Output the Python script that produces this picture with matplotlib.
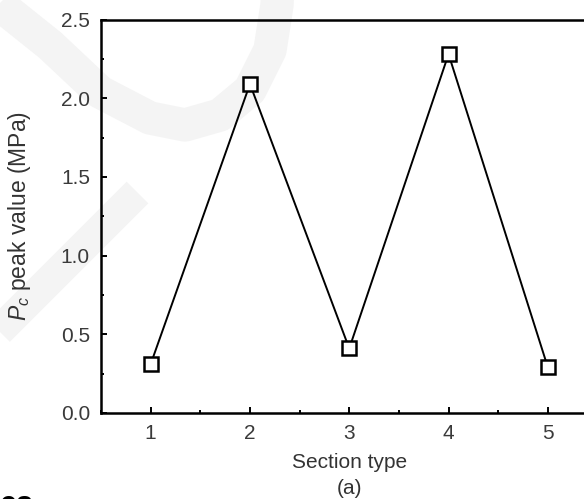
import numpy as np
import matplotlib
matplotlib.use('Agg')
import matplotlib.pyplot as plt
from matplotlib.ticker import MultipleLocator, FormatStrFormatter

# data
section_type = [1, 2, 3, 4, 5]
pc_peak = [0.31, 2.09, 0.41, 2.28, 0.29]

x_ticks = [1, 2, 3, 4, 5]
y_ticks = [0.0, 0.5, 1.0, 1.5, 2.0, 2.5]

plt.rcParams['font.family'] = ['Liberation Sans', 'DejaVu Sans']
plt.rcParams['mathtext.fontset'] = 'custom'
plt.rcParams['mathtext.rm'] = 'Liberation Sans'
plt.rcParams['mathtext.it'] = 'Liberation Sans:italic'

W, H = 584, 499
fig = plt.figure(figsize=(W / 100, H / 100), dpi=100)

# faint watermark strokes behind the chart (pixel coords)
bg = fig.add_axes([0, 0, 1, 1], zorder=0)
bg.set_xlim(0, W)
bg.set_ylim(H, 0)
bg.set_axis_off()
wm = '#f4f4f4'
arc_x = [-20, 0, 50, 100, 150, 185, 220, 250, 270, 277, 278]
arc_y = [-15, 5, 45, 92, 118, 125, 115, 90, 50, 5, -20]
bg.plot(arc_x, arc_y, color=wm, lw=24, solid_capstyle='butt', solid_joinstyle='round')
bg.plot([137.5, -20], [192.5, 350], color=wm, lw=22, solid_capstyle='butt')

# main axes, right part runs past the figure edge like the cropped original
left, right, top, bottom = 101, 597.5, 19.5, 413
ax = fig.add_axes([left / W, 1 - bottom / H, (right - left) / W, (bottom - top) / H], zorder=1)
ax.patch.set_alpha(0)

ax.plot(section_type, pc_peak, color='black', lw=1.4, marker='s', markersize=10.5,
        markerfacecolor='white', markeredgecolor='black', markeredgewidth=1.8, zorder=3)

ax.set_xlim(0.5, 5.5)
ax.set_ylim(0, 2.5)
ax.set_xticks(x_ticks)
ax.set_yticks(y_ticks)
ax.xaxis.set_minor_locator(MultipleLocator(0.5))
ax.yaxis.set_minor_locator(MultipleLocator(0.25))
ax.yaxis.set_major_formatter(FormatStrFormatter('%.1f'))

for s in ax.spines.values():
    s.set_linewidth(1.8)
ax.tick_params(which='both', direction='in', top=False, right=False, width=1.4,
               colors='black', labelcolor='#3a3a3a', labelsize=15)
ax.tick_params(which='major', length=4.5)
ax.tick_params(which='minor', length=2.2)
ax.tick_params(axis='x', which='major', pad=8)
ax.tick_params(axis='y', which='major', pad=8)

ax.set_xlabel('Section type', fontsize=15, color='#333333')
ax.set_ylabel(r'$P_c$ peak value (MPa)', fontsize=16.5, color='#333333')
ax.xaxis.set_label_coords(0.5, -0.1017)
ax.yaxis.set_label_coords(-0.137, 0.5)

cx = 349 / W
fig.text(cx, 1 - 489 / H, '(a)', ha='center', va='center', fontsize=15, color='#333333')
fig.text(0, 1 - 490 / H, 'es', ha='left', va='top', fontsize=22, fontweight='bold', color='black')

fig.savefig('out.png', dpi=100)
